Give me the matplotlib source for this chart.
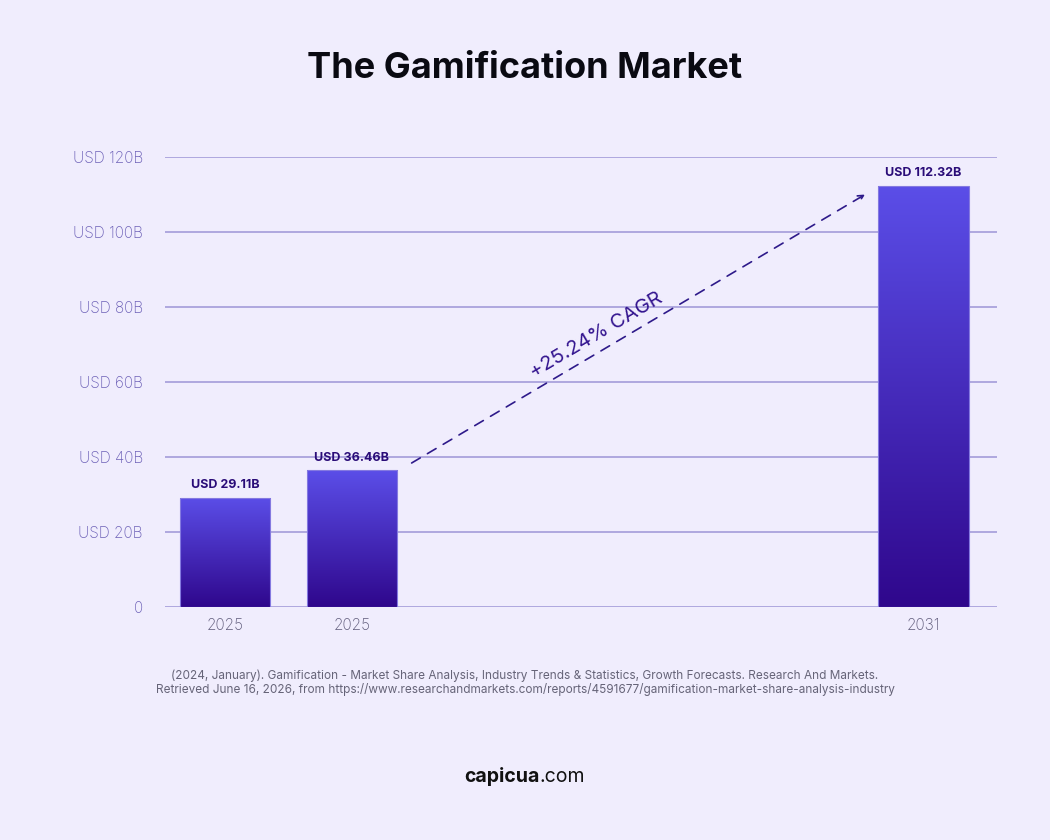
import matplotlib

matplotlib.use("Agg")

import matplotlib.pyplot as plt
import numpy as np
from matplotlib.colors import LinearSegmentedColormap

# data
years = ["2025", "2025", "2031"]
values = [29.11, 36.46, 112.32]
value_labels = ["USD 29.11B", "USD 36.46B", "USD 112.32B"]
y_ticks = [0, 20, 40, 60, 80, 100, 120]
y_tick_labels = ["0", "USD 20B", "USD 40B", "USD 60B", "USD 80B", "USD 100B", "USD 120B"]
cagr_label = "+25.24% CAGR"

# layout
x_pos = [0, 1, 5.5]
bar_width = 0.71

BG = "#f0edfd"
GRID = "#aaa2dc"
TICK = "#6e62b8"
LABEL = "#2a0c78"
TOP = "#5b4ee8"
BOTTOM = "#2f078c"

plt.rcParams["font.family"] = ["Inter", "DejaVu Sans"]

fig = plt.figure(figsize=(10.5, 8.4), dpi=100, facecolor=BG)
ax = fig.add_axes([165 / 1050, 233 / 840, 832 / 1050, 450 / 840])
ax.set_facecolor(BG)

for s in ax.spines.values():
    s.set_visible(False)
ax.set_yticks(y_ticks)
ax.set_yticklabels(y_tick_labels, fontsize=11, color=TICK, fontweight="light")
ax.set_xticks(x_pos)
ax.set_xticklabels(years, fontsize=11, color="#5e5a7a", fontweight="light")
ax.tick_params(axis="y", length=0, pad=16)
ax.tick_params(axis="x", length=0, pad=8)
ax.grid(axis="y", color=GRID, linewidth=1.3, zorder=0)
ax.set_axisbelow(True)

cmap = LinearSegmentedColormap.from_list("bar", [BOTTOM, TOP])
grad = np.linspace(0, 1, 256).reshape(-1, 1)
for x, v, lab in zip(x_pos, values, value_labels):
    bars = ax.bar(x, v, width=bar_width, color="none", edgecolor="#8479e0",
                  linewidth=0.8, zorder=3)
    im = ax.imshow(grad, cmap=cmap, aspect="auto", origin="lower",
                   extent=[x - bar_width / 2, x + bar_width / 2, 0, v], zorder=2)
    im.set_clip_path(bars[0])
    ax.text(x, v + 1.8, lab, ha="center", va="bottom", fontsize=9,
            fontweight="bold", color=LABEL, clip_on=False)

# limits after imshow
ax.set_xlim(-0.472, 6.079)
ax.set_ylim(0, 120)

# CAGR arrow
ax.annotate("", xy=(5.04, 110.0), xytext=(1.47, 38.4),
            arrowprops=dict(arrowstyle="->", color="#2e1a8a", lw=1.2,
                            linestyle=(0, (6, 5)), shrinkA=0, shrinkB=0),
            zorder=4)
ax.text(2.92, 72.5, cagr_label, rotation=30.6, rotation_mode="anchor",
        ha="center", va="center", fontsize=14.5, color="#33148f")

fig.text(0.5, 1 - 69 / 840, "The Gamification Market", ha="center", va="center",
         fontsize=26, fontweight="bold", color="#0a0a12")

fig.text(0.5, 1 - 676 / 840,
         "(2024, January). Gamification - Market Share Analysis, Industry Trends & Statistics, "
         "Growth Forecasts. Research And Markets.",
         ha="center", va="center", fontsize=8.5, color="#666478")
fig.text(0.5, 1 - 690 / 840,
         "Retrieved June 16, 2026, from https://www.researchandmarkets.com/reports/4591677/"
         "gamification-market-share-analysis-industry",
         ha="center", va="center", fontsize=8.5, color="#666478")

# footer brand, two weights side by side
fig.canvas.draw()
r = fig.canvas.get_renderer()
t1 = fig.text(0.5, 1 - 777 / 840, "capicua", ha="left", va="center",
              fontsize=14, fontweight="bold", color="#111111")
t2 = fig.text(0.5, 1 - 777 / 840, ".com", ha="left", va="center",
              fontsize=14, color="#111111")
w1 = t1.get_window_extent(r).width / 1050
w2 = t2.get_window_extent(r).width / 1050
start = 0.5 - (w1 + w2) / 2
t1.set_x(start)
t2.set_x(start + w1)

fig.savefig("out.png", dpi=100, facecolor=BG)
